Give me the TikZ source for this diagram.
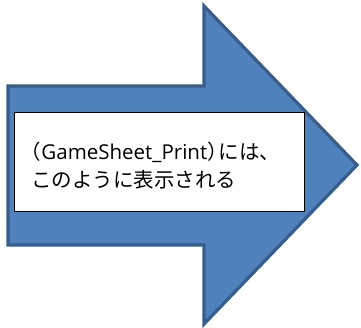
\documentclass[tikz,border=0pt]{standalone}
\usepackage{fontspec}
\setmainfont{Open Sans}
\newfontfamily\jpfont{Noto Sans CJK JP}
\definecolor{arrowfill}{HTML}{4F81BD}
\definecolor{arrowline}{HTML}{385D8A}

\begin{document}
\begin{tikzpicture}[x=1pt,y=-1pt,
    bigarrow/.style={fill=arrowfill,draw=arrowline,line width=3.2pt},
    labelbox/.style={fill=white,draw=black,line width=1pt},
    labeltext/.style={inner sep=0pt,align=left,anchor=west,
      font=\fontsize{20.5}{28}\selectfont}]
				\useasboundingbox (0,0) rectangle (361,328);
				% arrow shape
				\draw[bigarrow] (8,86) -- (204,86) -- (204,6) -- (357,165)
				  -- (204,324) -- (204,245) -- (8,245) -- cycle;
				% text box
				\draw[labelbox] (14,113) rectangle (304,212);
				\node[labeltext] (msg) at (31,166)
				  {\hspace{-0.5em}{\jpfont （}GameSheet\_Print{\jpfont ）\kern-0.45em には、}\\
				   {\jpfont このように表示される}};
			\end{tikzpicture}
\end{document}
